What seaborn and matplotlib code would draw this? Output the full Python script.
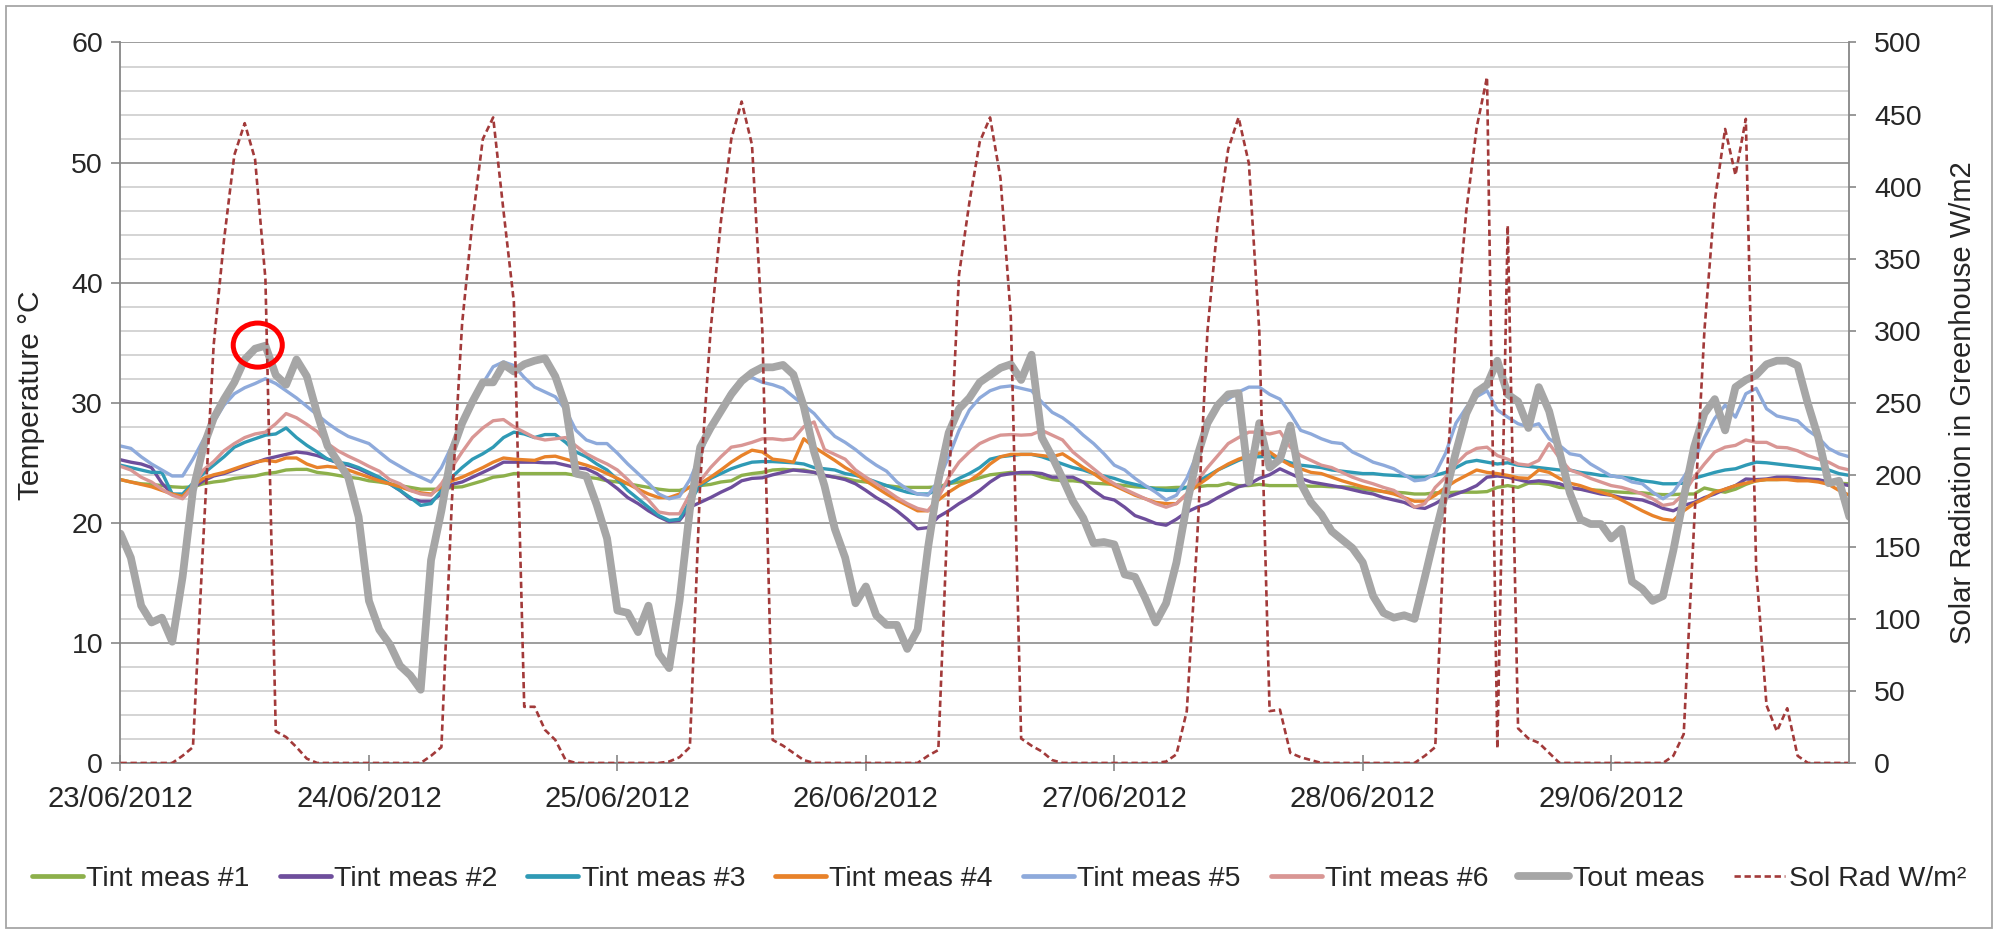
import numpy as np
import pandas as pd
import matplotlib
matplotlib.use("Agg")
import matplotlib.pyplot as plt
import seaborn as sns
from matplotlib.patches import Ellipse, Rectangle
from matplotlib.lines import Line2D

# ---------------- data (hourly, 23/06/2012 00:00 -> 29/06/2012 23:00) ----------------
day_labels = ["23/06/2012", "24/06/2012", "25/06/2012", "26/06/2012",
              "27/06/2012", "28/06/2012", "29/06/2012"]

tint1 = [23.6, 23.4, 23.25, 23.2, 23.1, 23.0, 22.95, 23.0, 23.25, 23.4,
         23.5, 23.7, 23.8, 23.9, 24.1, 24.2, 24.4, 24.45, 24.45, 24.2,
         24.1, 23.95, 23.8, 23.7, 23.5, 23.4, 23.25, 23.1, 22.95, 22.8,
         22.8, 22.8, 22.95, 23.0, 23.25, 23.5, 23.8, 23.9, 24.1, 24.1,
         24.1, 24.1, 24.1, 24.1, 23.95, 23.8, 23.7, 23.5, 23.4, 23.25,
         23.1, 22.95, 22.8, 22.7, 22.7, 22.95, 23.1, 23.2, 23.4, 23.5,
         23.95, 24.1, 24.2, 24.4, 24.45, 24.4, 24.4, 24.2, 23.95, 23.8,
         23.7, 23.5, 23.4, 23.25, 23.1, 23.0, 22.95, 22.95, 22.95, 23.0,
         23.25, 23.4, 23.5, 23.75, 24.0, 24.1, 24.2, 24.1, 24.1, 23.8,
         23.6, 23.5, 23.5, 23.4, 23.3, 23.25, 23.2, 23.1, 23.0, 22.95,
         22.9, 22.9, 22.95, 22.95, 23.0, 23.1, 23.1, 23.3, 23.1, 23.1,
         23.2, 23.1, 23.1, 23.1, 23.1, 23.05, 23.05, 23.0, 23.0, 22.95,
         22.8, 22.7, 22.6, 22.55, 22.5, 22.4, 22.4, 22.5, 22.5, 22.55,
         22.55, 22.55, 22.6, 22.95, 23.1, 22.95, 23.3, 23.3, 23.2, 22.95,
         22.9, 22.8, 22.75, 22.7, 22.6, 22.55, 22.5, 22.5, 22.4, 22.35,
         22.35, 22.4, 22.4, 22.9, 22.7, 22.55, 22.8, 23.2, 23.5, 23.6,
         23.6, 23.65, 23.65, 23.6, 23.5, 23.4, 23.3, 23.25]

tint2 = [25.25, 25.05, 24.9, 24.6, 23.3, 22.4, 22.1, 22.9, 23.5, 23.9,
         24.1, 24.4, 24.7, 25.0, 25.3, 25.5, 25.7, 25.9, 25.8, 25.6,
         25.3, 25.0, 24.8, 24.5, 24.1, 23.7, 23.25, 22.7, 22.0, 21.8,
         21.8, 22.4, 23.2, 23.4, 23.8, 24.2, 24.6, 25.05, 25.05, 25.05,
         25.05, 25.0, 25.0, 24.8, 24.6, 24.5, 24.1, 23.5, 22.85, 22.1,
         21.6, 21.0, 20.5, 20.1, 20.2, 21.3, 21.7, 22.1, 22.55, 22.95,
         23.5, 23.7, 23.75, 24.0, 24.2, 24.4, 24.3, 24.2, 23.95, 23.8,
         23.6, 23.25, 22.7, 22.1, 21.6, 21.0, 20.3, 19.5, 19.6, 20.5,
         21.0, 21.6, 22.1, 22.7, 23.4, 23.95, 24.1, 24.2, 24.2, 24.1,
         23.8, 23.8, 23.8, 23.4, 22.7, 22.1, 21.9, 21.3, 20.6, 20.3,
         19.95, 19.8, 20.3, 20.9, 21.3, 21.6, 22.1, 22.55, 23.0, 23.2,
         23.7, 24.0, 24.5, 24.1, 23.7, 23.4, 23.25, 23.1, 22.95, 22.75,
         22.55, 22.4, 22.1, 21.9, 21.7, 21.3, 21.2, 21.6, 22.1, 22.4,
         22.7, 23.1, 23.8, 23.9, 23.8, 23.6, 23.4, 23.5, 23.4, 23.25,
         22.95, 22.8, 22.6, 22.4, 22.3, 22.1, 22.0, 21.9, 21.6, 21.2,
         21.0, 21.45, 21.7, 22.1, 22.4, 22.8, 23.1, 23.65, 23.6, 23.65,
         23.8, 23.8, 23.75, 23.65, 23.6, 23.4, 23.25, 23.1]

tint3 = [24.8, 24.6, 24.4, 24.2, 24.2, 22.4, 22.4, 23.3, 24.1, 24.8,
         25.5, 26.3, 26.7, 27.0, 27.3, 27.4, 27.9, 27.1, 26.45, 25.9,
         25.3, 25.05, 24.9, 24.6, 24.2, 23.8, 23.25, 22.7, 22.1, 21.45,
         21.6, 22.7, 23.8, 24.6, 25.3, 25.75, 26.3, 27.1, 27.55, 27.4,
         27.1, 27.35, 27.35, 26.7, 25.9, 25.5, 24.9, 24.4, 23.6, 22.7,
         22.0, 21.3, 20.6, 20.2, 20.3, 21.8, 23.1, 23.7, 24.1, 24.5,
         24.8, 25.05, 25.1, 25.1, 25.05, 25.0, 24.9, 24.6, 24.5, 24.4,
         24.1, 23.95, 23.7, 23.4, 23.1, 22.8, 22.55, 22.4, 22.4, 22.8,
         23.25, 23.7, 24.1, 24.6, 25.3, 25.5, 25.6, 25.7, 25.7, 25.5,
         25.2, 24.9, 24.6, 24.4, 24.1, 23.9, 23.7, 23.4, 23.2, 23.0,
         22.8, 22.7, 22.7, 22.95, 23.4, 23.9, 24.4, 24.8, 25.2, 25.5,
         25.5, 25.55, 25.3, 25.0, 24.8, 24.7, 24.6, 24.4, 24.3, 24.2,
         24.1, 24.1, 24.0, 23.95, 23.9, 23.8, 23.8, 23.95, 24.2, 24.6,
         25.05, 25.2, 25.05, 24.9, 25.0, 24.8, 24.7, 24.6, 24.5, 24.4,
         24.4, 24.2, 24.1, 23.95, 23.9, 23.8, 23.7, 23.5, 23.4, 23.25,
         23.25, 23.3, 23.7, 23.95, 24.2, 24.4, 24.5, 24.8, 25.05, 25.0,
         24.9, 24.8, 24.7, 24.6, 24.5, 24.4, 24.1, 23.95]

tint4 = [23.6, 23.4, 23.2, 23.0, 22.7, 22.4, 22.2, 23.1, 23.7, 24.0,
         24.2, 24.5, 24.8, 25.05, 25.2, 25.1, 25.4, 25.4, 24.9, 24.6,
         24.7, 24.6, 24.4, 24.1, 23.8, 23.5, 23.25, 23.0, 22.7, 22.5,
         22.4, 23.0, 23.5, 23.8, 24.2, 24.6, 25.05, 25.4, 25.3, 25.25,
         25.2, 25.5, 25.55, 25.3, 25.05, 24.8, 24.5, 24.1, 23.7, 23.25,
         22.8, 22.4, 22.1, 22.1, 22.4, 23.0, 23.25, 23.8, 24.4, 25.05,
         25.6, 26.05, 25.9, 25.3, 25.2, 25.05, 27.0, 26.3, 25.75, 25.2,
         24.6, 24.1, 23.5, 22.95, 22.4, 21.9, 21.45, 21.0, 21.0, 21.9,
         22.55, 23.1, 23.5, 24.1, 24.9, 25.5, 25.7, 25.7, 25.7, 25.6,
         25.5, 25.75, 25.2, 24.6, 24.1, 23.5, 23.1, 22.7, 22.3, 22.0,
         21.7, 21.6, 21.6, 22.4, 23.1, 23.7, 24.4, 24.9, 25.3, 25.6,
         25.8, 25.9, 25.3, 24.8, 24.5, 24.2, 24.1, 23.8, 23.5, 23.25,
         23.0, 22.8, 22.6, 22.4, 22.1, 21.8, 21.8, 22.3, 22.95, 23.5,
         23.95, 24.4, 24.2, 24.1, 23.95, 23.75, 23.7, 24.4, 24.2, 23.7,
         23.3, 23.1, 22.8, 22.55, 22.3, 21.9, 21.45, 21.0, 20.6, 20.3,
         20.2, 21.0, 21.6, 22.0, 22.55, 22.8, 23.1, 23.3, 23.5, 23.6,
         23.6, 23.6, 23.5, 23.5, 23.4, 23.2, 22.7, 22.3]

tint5 = [26.4, 26.2, 25.5, 24.9, 24.4, 23.9, 23.9, 25.3, 26.9, 28.4,
         29.8, 30.75, 31.25, 31.6, 32.0, 31.6, 31.0, 30.4, 29.7, 29.0,
         28.3, 27.7, 27.2, 26.9, 26.6, 25.9, 25.2, 24.7, 24.2, 23.8,
         23.4, 24.6, 26.4, 28.25, 30.05, 31.6, 33.0, 33.4, 33.1, 32.1,
         31.3, 30.9, 30.5, 29.4, 27.7, 26.9, 26.6, 26.6, 25.8, 24.9,
         24.1, 23.3, 22.4, 22.0, 22.2, 23.6, 25.6, 28.0, 29.5, 31.0,
         32.0, 32.1, 31.7, 31.5, 31.2, 30.5, 29.8, 29.1, 28.1, 27.2,
         26.7, 26.1, 25.4, 24.8, 24.3, 23.4, 22.8, 22.4, 22.3, 23.5,
         25.5, 27.7, 29.4, 30.4, 31.0, 31.3, 31.4, 31.2, 31.0, 30.05,
         29.2, 28.75, 28.1, 27.3, 26.6, 25.75, 24.8, 24.4, 23.7, 23.1,
         22.55, 21.9, 22.3, 23.7, 25.75, 28.0, 29.8, 30.3, 30.9, 31.3,
         31.3, 30.7, 30.3, 29.1, 27.7, 27.4, 27.0, 26.7, 26.6, 25.9,
         25.5, 25.05, 24.8, 24.5, 24.0, 23.5, 23.6, 24.1, 25.8, 28.3,
         29.6, 30.5, 31.0, 29.4, 28.8, 28.25, 28.0, 28.25, 27.0, 26.45,
         25.75, 25.6, 24.9, 24.4, 23.9, 23.8, 23.4, 23.25, 22.55, 22.0,
         22.55, 23.8, 25.2, 27.1, 28.7, 29.8, 28.8, 30.75, 31.2, 29.5,
         28.9, 28.7, 28.5, 27.7, 27.1, 26.2, 25.75, 25.5]

tint6 = [24.7, 24.4, 23.8, 23.4, 22.8, 22.3, 22.0, 23.0, 24.4, 25.1,
         26.0, 26.6, 27.1, 27.4, 27.55, 28.25, 29.1, 28.75, 28.2, 27.6,
         26.6, 26.0, 25.55, 25.15, 24.7, 24.3, 23.6, 23.25, 22.7, 22.4,
         22.3, 23.25, 24.6, 25.9, 27.1, 27.9, 28.5, 28.6, 28.0, 27.55,
         27.1, 26.9, 27.0, 27.1, 26.4, 25.75, 25.3, 24.9, 24.4, 23.6,
         22.7, 21.9, 20.9, 20.75, 20.75, 22.4, 23.5, 24.6, 25.5, 26.3,
         26.45, 26.7, 27.0, 27.0, 26.9, 27.0, 28.0, 28.4, 26.1, 25.7,
         25.3, 24.4, 23.8, 23.25, 22.7, 22.1, 21.6, 21.2, 21.0, 22.1,
         23.8, 25.05, 25.9, 26.6, 27.0, 27.3, 27.35, 27.3, 27.35, 27.7,
         27.3, 26.9, 25.9, 25.2, 24.5, 23.8, 23.25, 22.8, 22.4, 22.0,
         21.6, 21.3, 21.6, 22.4, 23.5, 24.6, 25.6, 26.6, 27.1, 27.55,
         27.55, 27.4, 27.6, 26.3, 25.6, 25.2, 24.8, 24.6, 24.2, 23.8,
         23.5, 23.25, 22.95, 22.7, 22.1, 21.3, 21.6, 22.95, 23.8, 24.9,
         25.75, 26.2, 26.3, 25.6, 25.3, 24.9, 24.8, 25.2, 26.6, 25.4,
         24.4, 24.1, 23.7, 23.4, 23.1, 22.95, 22.7, 22.4, 22.0, 21.45,
         21.6, 22.4, 23.8, 24.9, 25.9, 26.3, 26.45, 26.9, 26.7, 26.7,
         26.3, 26.25, 26.0, 25.6, 25.3, 25.05, 24.6, 24.4]

tout = [19.1, 17.1, 13.1, 11.7, 12.1, 10.1, 15.5, 22.7, 26.3, 28.7,
        30.3, 31.7, 33.6, 34.5, 34.75, 32.3, 31.5, 33.6, 32.2, 29.1,
        26.4, 25.1, 23.8, 20.5, 13.5, 11.1, 9.9, 8.1, 7.3, 6.1,
        16.9, 21.0, 25.9, 28.3, 30.1, 31.7, 31.7, 33.2, 32.6, 33.2,
        33.5, 33.7, 32.2, 29.7, 24.1, 23.9, 21.5, 18.7, 12.7, 12.5,
        10.9, 13.1, 9.1, 7.9, 13.5, 21.1, 26.3, 27.9, 29.3, 30.7,
        31.8, 32.5, 32.95, 32.95, 33.15, 32.35, 29.7, 25.9, 23.1, 19.5,
        17.1, 13.3, 14.7, 12.3, 11.5, 11.5, 9.5, 11.1, 17.9, 23.5,
        27.5, 29.5, 30.4, 31.7, 32.3, 32.9, 33.2, 31.9, 34.0, 27.1,
        25.5, 23.7, 21.8, 20.4, 18.3, 18.4, 18.2, 15.7, 15.5, 13.7,
        11.7, 13.3, 16.7, 21.5, 25.5, 28.3, 29.8, 30.7, 30.8, 23.4,
        28.3, 24.6, 25.3, 28.1, 23.3, 21.7, 20.7, 19.3, 18.6, 17.9,
        16.7, 13.9, 12.5, 12.1, 12.3, 12.0, 15.5, 19.1, 22.5, 25.9,
        29.1, 30.9, 31.5, 33.5, 30.7, 30.1, 27.9, 31.3, 29.3, 25.9,
        22.5, 20.3, 19.9, 19.9, 18.7, 19.5, 15.1, 14.5, 13.5, 13.9,
        17.7, 22.1, 26.3, 29.1, 30.3, 27.7, 31.3, 31.9, 32.3, 33.2,
        33.5, 33.5, 33.1, 29.9, 27.1, 23.3, 23.5, 20.5]

sol_rad = [0, 0, 0, 0, 0, 0, 5, 11, 155, 290,
           363, 422, 444, 419, 336, 22, 18, 11, 3, 0,
           0, 0, 0, 0, 0, 0, 0, 0, 0, 0,
           5, 11, 180, 305, 376, 433, 448, 383, 320, 39,
           39, 23, 16, 2, 0, 0, 0, 0, 0, 0,
           0, 0, 0, 1, 4, 11, 195, 300, 376, 433,
           459, 429, 300, 16, 12, 7, 2, 0, 0, 0,
           0, 0, 0, 0, 0, 0, 0, 0, 5, 9,
           190, 339, 389, 431, 448, 406, 310, 17, 12, 8,
           2, 0, 0, 0, 0, 0, 0, 0, 0, 0,
           0, 1, 6, 36, 155, 300, 376, 426, 448, 416,
           300, 36, 37, 7, 4, 2, 0, 0, 0, 0,
           0, 0, 0, 0, 0, 0, 5, 11, 185, 300,
           383, 441, 476, 10, 373, 24, 17, 14, 7, 0,
           0, 0, 0, 0, 0, 0, 0, 0, 0, 0,
           5, 20, 165, 300, 390, 440, 408, 447, 135, 40,
           22, 38, 5, 0, 0, 0, 0, 0]

temp_names = ["Tint meas #1", "Tint meas #2", "Tint meas #3", "Tint meas #4",
              "Tint meas #5", "Tint meas #6", "Tout meas"]
rad_name = "Sol Rad W/m\u00b2"

# ---------------- styling ----------------
sns.set_style("white")
plt.rcParams["font.family"] = ["Liberation Sans", "DejaVu Sans"]

colors = ["#8DB04B", "#6E4E9C", "#2F9AB5", "#E8822A",
          "#8EAADB", "#D99694", "#A6A6A6"]
widths = [2.4, 2.4, 2.4, 2.4, 2.4, 2.4, 5.6]
rad_color = "#A23A3A"
rad_dash = (0, (2.4, 1.4))

hours = np.arange(len(tout))
df = pd.DataFrame({"hour": hours,
                   temp_names[0]: tint1, temp_names[1]: tint2,
                   temp_names[2]: tint3, temp_names[3]: tint4,
                   temp_names[4]: tint5, temp_names[5]: tint6,
                   temp_names[6]: tout, rad_name: sol_rad})

fig = plt.figure(figsize=(19.98, 9.34), dpi=100)
ax = fig.add_axes([0.0603, 0.1831, 0.8653, 0.7714])
ax2 = ax.twinx()

for name, col, lw in zip(temp_names, colors, widths):
    sns.lineplot(data=df, x="hour", y=name, ax=ax, color=col,
                 linewidth=lw, label=name, legend=False)

sns.lineplot(data=df, x="hour", y=rad_name, ax=ax2, color=rad_color,
             linewidth=1.9, label=rad_name, legend=False)
ax2.lines[-1].set_linestyle(rad_dash)

# highlight circle around the day-1 outdoor peak
ax2.add_patch(Ellipse((13.26, 34.8), 4.74, 3.67, transform=ax.transData,
                      fill=False, edgecolor="#FF0000", linewidth=3.6, zorder=10))

# axes limits / ticks
ax.set_xlim(0, len(tout) - 1)
ax.set_ylim(0, 60)
ax2.set_ylim(0, 500)
ax.set_yticks(np.arange(0, 61, 10))
ax.set_yticks(np.arange(0, 61, 2), minor=True)
ax2.set_yticks(np.arange(0, 501, 50))
ax.set_xticks(np.arange(0, len(tout), 24))
ax.set_xticklabels(day_labels)

ax.grid(which="major", axis="y", color="#8C8C8C", linewidth=1.2)
ax.grid(which="minor", axis="y", color="#C9C9C9", linewidth=1.1)
ax.grid(which="major", axis="x", visible=False)
ax.set_axisbelow(True)

axis_col = "#878787"
for a in (ax, ax2):
    for s in a.spines.values():
        s.set_visible(False)
ax.spines["left"].set_visible(True)
ax.spines["bottom"].set_visible(True)
ax2.spines["right"].set_visible(True)
for s in (ax.spines["left"], ax.spines["bottom"], ax2.spines["right"]):
    s.set_color(axis_col)
    s.set_linewidth(1.3)

ax.tick_params(axis="y", which="major", direction="out", length=6.5, width=1.2,
               color=axis_col, labelsize=20.5, pad=6, left=True)
ax.tick_params(axis="y", which="minor", length=0)
ax.tick_params(axis="x", which="major", direction="inout", length=12, width=1.2,
               color=axis_col, labelsize=21, pad=10, bottom=True)
ax2.tick_params(axis="y", direction="out", length=5, width=1.2, color=axis_col,
                labelsize=20.5, pad=13, right=True)

ax.set_xlabel("")
ax.set_ylabel("Temperature \u00b0C", fontsize=21.5)
ax2.set_ylabel("Solar Radiation in Greenhouse W/m2", fontsize=21)
ax.yaxis.set_label_coords(-0.0437, 0.51)
ax2.yaxis.set_label_coords(1.0577, 0.50)

# legend (proxy handles share colours/styles with the plotted series)
handles = [Line2D([], [], color=c, linewidth=(3.4 if w < 4 else 5.6))
           for c, w in zip(colors, widths)]
handles.append(Line2D([], [], color=rad_color, linewidth=1.9, linestyle=rad_dash))
labels = temp_names + [rad_name]
fig.legend(handles, labels, loc="center", bbox_to_anchor=(0.5, 0.0589),
           ncol=8, frameon=False, fontsize=20.5, handlelength=1.79,
           handletextpad=0.12, columnspacing=1.05)

# outer chart border
fig.patches.append(Rectangle((0.003, 0.0064), 0.994, 0.9872, transform=fig.transFigure,
                             fill=False, edgecolor="#A6A6A6", linewidth=1.3))

fig.savefig("out.png", dpi=100)
